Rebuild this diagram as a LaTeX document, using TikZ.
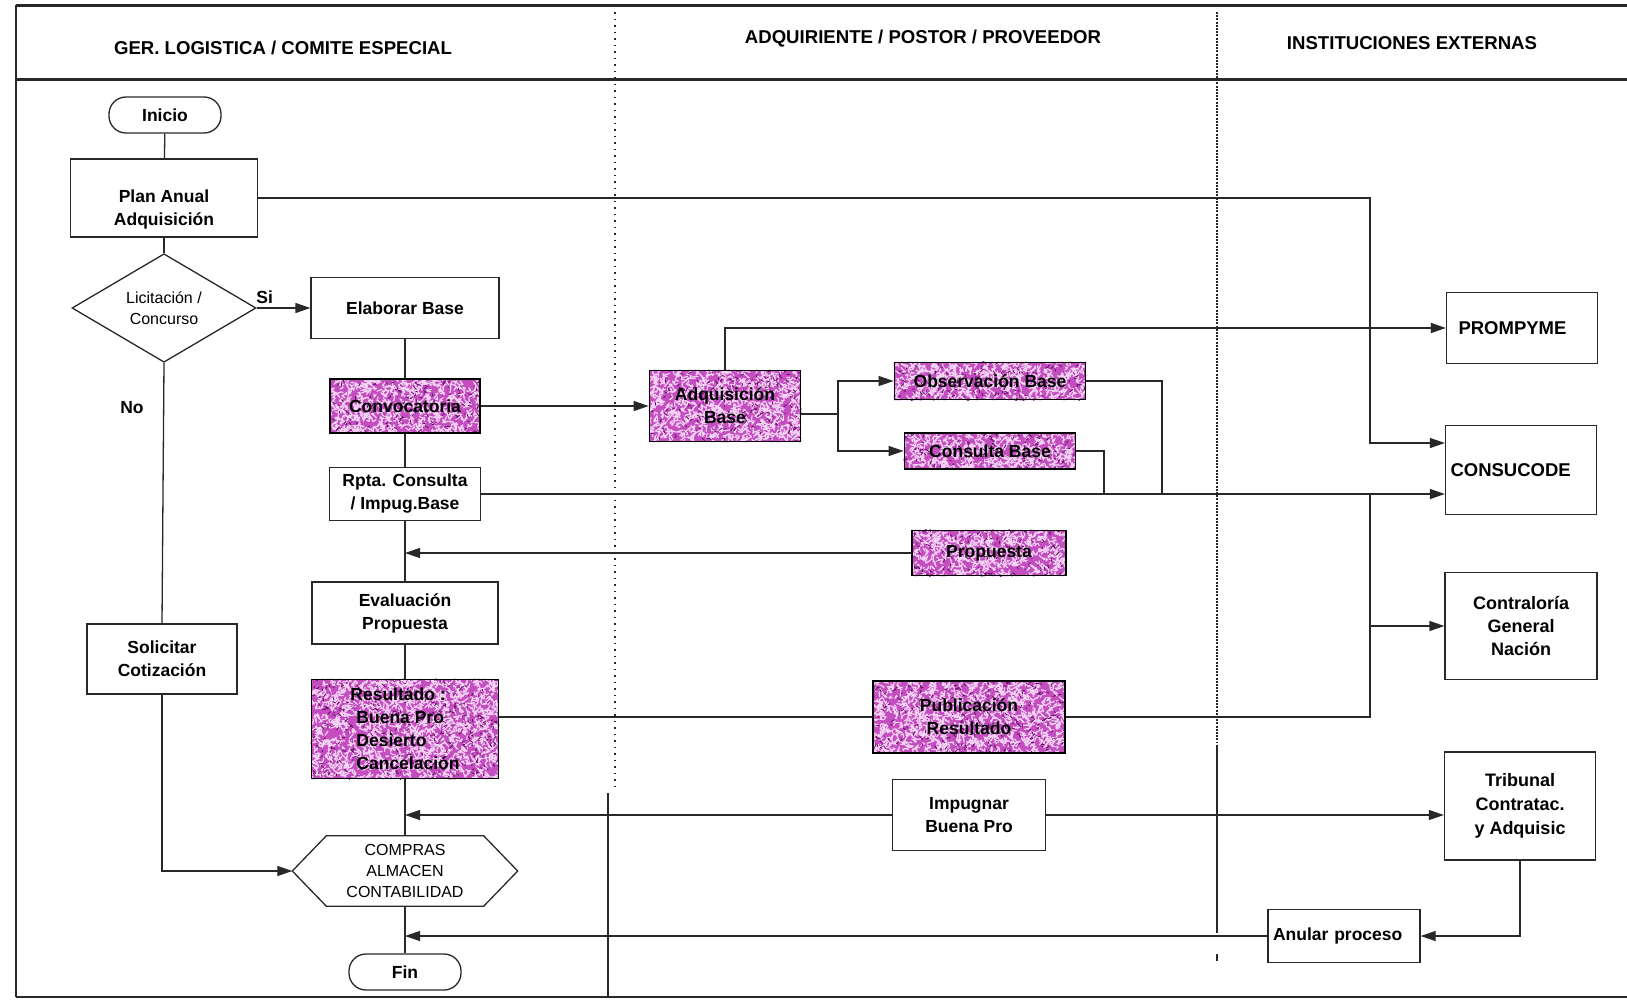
\documentclass[tikz,border=0pt]{standalone}
\usepackage{fontspec}
\setmainfont{Liberation Sans}
\usetikzlibrary{arrows.meta,shapes.geometric,calc}
\pgfdeclarelayer{paper}
\pgfdeclarelayer{texture}
\pgfsetlayers{paper,texture,main}
\definecolor{ink}{RGB}{40,40,40}
\definecolor{mbase}{RGB}{196,78,192}
\definecolor{mlight}{RGB}{244,212,244}
\definecolor{mdark}{RGB}{105,15,105}
\newcommand\flowfont{\bfseries\fontsize{17.5}{23}\selectfont}
\newcommand\instfont{\bfseries\fontsize{18.5}{23.5}\selectfont}
\newcommand\plainfont{\fontsize{16}{21}\selectfont}
\newcommand\headfont{\bfseries\fontsize{18.6}{22}\selectfont}
% speckled magenta backing for a node: name, half width, half height
\newcommand\mottle[3]{%
  \begin{pgfonlayer}{texture}
  \begin{scope}
    \clip (#1.north west) rectangle (#1.south east);
    \fill[mbase] (#1.north west) rectangle (#1.south east);
    \pgfmathtruncatemacro\nmot{#2*#3/3.6}
    \foreach \k in {1,...,\nmot}{
      \draw[mlight, line width=1.15pt, line cap=round]
        ($(#1.center)+(rand*#2+rand*3,rand*#3+rand*3)$) .. controls +(rand*4,rand*4) .. +(rand*5,rand*5);
    }
    \pgfmathtruncatemacro\nmot{#2*#3/14}
    \foreach \k in {1,...,\nmot}{
      \draw[mdark, line width=0.9pt, line cap=round]
        ($(#1.center)+(rand*#2,rand*#3)$) -- +(rand*3,rand*3);
    }
  \end{scope}
  \end{pgfonlayer}}

\begin{document}
\begin{tikzpicture}[x=1pt,y=-1pt,
  conn/.style={draw=ink, line width=1.3pt},
  arr/.style={conn, -{Triangle[length=15pt,width=10pt]}},
  box/.style 2 args={draw=ink, line width=1.3pt, rectangle, minimum width=#1,
    minimum height=#2, inner sep=2pt, align=center, font=\flowfont},
  lbox/.style={draw=ink, line width=1.3pt, rectangle, align=left, font=\flowfont,
    inner xsep=5pt},
  term/.style={draw=ink, line width=1.3pt, rounded corners=17pt, minimum width=112,
    minimum height=36, font=\flowfont},
  dec/.style={draw=ink, line width=1.3pt, shape=diamond, minimum width=184,
    minimum height=87, inner sep=0pt, align=center, font=\plainfont},
  head/.style={font=\headfont},
  mbox/.style 2 args={draw=black, line width=1.8pt, rectangle,
    minimum width=#1, minimum height=#2, inner sep=2pt, align=center, font=\flowfont},
  divA/.style={draw=ink, line width=1.3pt, dash pattern=on 1.5pt off 5pt},
  divB/.style={draw=ink, line width=1.8pt, dash pattern=on 2pt off 1.2pt}
]
\pgfmathsetseed{11}
\begin{pgfonlayer}{paper}
\fill[white] (0,0) rectangle (1627,1001);
\end{pgfonlayer}
\useasboundingbox (0,0) rectangle (1627,1001);

% lane frame and headers
\draw[ink, line width=3pt] (16,5) -- (1627,5);
\draw[ink, line width=3pt] (16,79) -- (1627,79);
\draw[ink, line width=1.5pt] (16,5) -- (16,997);
\draw[ink, line width=2.5pt] (16,997) -- (1627,997);
\draw[divA] (615,12) -- (615,787);
\draw[conn] (608,793) -- (608,997);
\draw[divB] (1217,12) -- (1217,742);
\draw[conn] (1217,745) -- (1217,933);
\draw[conn] (1217,954) -- (1217,961);

\node[head] (h1) at (283,48) {GER. LOGISTICA / COMITE ESPECIAL};
\node[head] (h2) at (923,39) {ADQUIRIENTE / POSTOR / PROVEEDOR};
\node[head] (h3) at (1412,43) {INSTITUCIONES EXTERNAS};

% committee lane
\node[term] (ini) at (165,115) {Inicio};
\node[box={187}{78}] (plan) at (164,198) {\rule{0pt}{36pt}Plan Anual\\Adquisición};
\node[dec] (lic) at (164,308) {Licitación /\\Concurso};
\node[box={188}{61}] (elab) at (405,308) {Elaborar Base};
\node[mbox={150}{54}] (conv) at (405,406) {Convocatoria};
\node[box={151}{53}] (rpta) at (405,494) {Rpta. Consulta\\/ Impug.Base};
\node[box={186}{62}] (eval) at (405,613) {Evaluación\\Propuesta};
\node[mbox={187}{99}, align=left] (res) at (405,729)
  {Resultado :\\\hspace*{6pt}Buena Pro\\\hspace*{6pt}Desierto\\\hspace*{6pt}Cancelación};
\node[box={150}{70}] (sol) at (162,659) {Solicitar\\Cotización};
\node[minimum width=225, minimum height=70, inner sep=0pt, align=center,
  font=\plainfont] (hex) at (405,871) {COMPRAS\\ALMACEN\\CONTABILIDAD};
\draw[conn] (hex.west) -- ($(hex.north west)+(34,0)$) -- ($(hex.north east)+(-34,0)$)
  -- (hex.east) -- ($(hex.south east)+(-34,0)$) -- ($(hex.south west)+(34,0)$) -- cycle;
\node[term] (fin) at (405,972) {Fin};

% bidder lane
\node[mbox={151}{71}] (adq) at (725,406) {Adquisición\\Base};
\node[mbox={191}{37}] (obs) at (990,381) {Observación Base};
\node[mbox={171}{36}] (cons) at (990,451) {Consulta Base};
\node[mbox={154}{45}] (prop) at (989,553) {Propuesta};
\node[mbox={192}{72}] (pub) at (969,717) {Publicación\\Resultado};
\node[box={153}{71}] (imp) at (969,815) {Impugnar\\Buena Pro};

% speckled fills of the highlighted steps
\mottle{conv}{75}{27}
\mottle{res}{94}{50}
\mottle{adq}{76}{36}
\mottle{obs}{96}{19}
\mottle{cons}{86}{18}
\mottle{prop}{77}{23}
\mottle{pub}{96}{36}

% external institutions
\node[lbox, font=\instfont, text width=127pt, inner xsep=12pt, minimum height=71] (prom) at (1522,328) {PROMPYME};
\node[lbox, font=\instfont, text width=141pt, minimum height=89] (consu) at (1521,470) {CONSUCODE};
\node[box={152}{107}, font=\bfseries\fontsize{18}{23}\selectfont] (contr) at (1521,626) {Contraloría\\General\\Nación};
\node[box={151}{108}, font=\bfseries\fontsize{18}{24}\selectfont] (trib) at (1520,806) {Tribunal\\Contratac.\\y Adquisic};
\node[lbox, text width=142pt, minimum height=53] (anul) at (1344,936) {Anular proceso};

% main sequence
\draw[conn] (ini) -- (plan);
\draw[conn] (plan) -- (lic);
\draw[arr] (lic.east) -- node[pos=0.15, above, font=\flowfont] {Si} (elab.west);
\draw[conn] (lic.south) -- node[pos=0.17, left, xshift=-16pt, font=\flowfont] {No} (sol.north);
\draw[conn] (elab) -- (conv);
\draw[conn] (conv) -- (rpta);
\draw[conn] (rpta) -- (eval);
\draw[conn] (eval) -- (res);
\draw[conn] (res) -- (hex.north);
\draw[conn] (hex.south) -- (fin);
\draw[arr] (sol.south) |- (hex.west);

% bidder flows
\draw[arr] (conv) -- (adq);
\draw[arr] (adq.north) |- (prom.west);
\coordinate (fork) at (838,414);
\draw[conn] ([yshift=-8pt]adq.east) -- (fork);
\draw[arr] (fork) |- (obs.west);
\draw[arr] (fork) |- (cons.west);
\coordinate (obsdrop) at (1162,494);
\coordinate (consdrop) at (1104,494);
\draw[conn] (obs.east) -| (obsdrop);
\draw[conn] (cons.east) -| (consdrop);
\draw[arr] (rpta.east) -- (rpta.east -| consu.west);
\draw[arr] (prop.west) -- (prop.west -| conv.south);
\draw[conn] (res.east |- pub.west) -- (pub.west);
\draw[arr] (imp.west) -- (imp.west -| conv.south);
\draw[arr] (imp.east) -- (imp.east -| trib.west);

% notices to external institutions
\coordinate (bus) at (1370,443);
\coordinate (bustop) at (1370,494);
\draw[arr] (plan.east) -| (bus) -- (bus -| consu.west);
\draw[conn] (pub.east) -| (bustop);
\draw[arr] (contr.west -| bustop) -- (contr.west);
\draw[arr] (trib.south) |- (anul.east);
\draw[arr] (anul.west) -- (anul.west -| fin.north);
\end{tikzpicture}
\end{document}
